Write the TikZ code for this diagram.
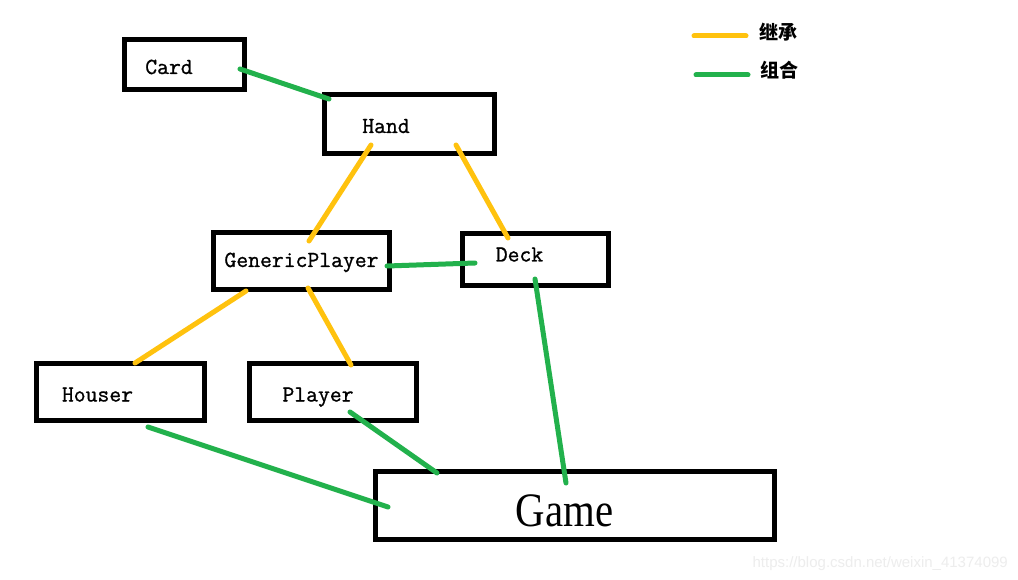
\documentclass[tikz,border=0pt]{standalone}
\usepackage{fontspec}
\setmainfont{Liberation Serif}
\newfontfamily\cjkfont{Noto Sans CJK SC}
\newfontfamily\wmfont{Liberation Sans}
\newfontfamily\boxfont[FakeBold=1]{Latin Modern Mono}
\definecolor{inhy}{HTML}{FFC20E}
\definecolor{compg}{HTML}{22B14C}
\definecolor{wmgray}{HTML}{EDEDED}
\tikzset{
  boxst/.style={draw=black, line width=5pt, inner sep=0pt, outer sep=0pt, rectangle},
  txt/.style={inner sep=0pt, anchor=base, font=\boxfont\fontsize{23}{23}\selectfont},
  inh/.style={draw=inhy, line width=5pt, line cap=round},
  comp/.style={draw=compg, line width=5pt, line cap=round},
  legtxt/.style={inner sep=0pt, font=\cjkfont\bfseries\fontsize{19}{19}\selectfont}
}
\begin{document}
\begin{tikzpicture}[x=1pt,y=-1pt]
\useasboundingbox[fill=white] (0,0) rectangle (1018,580);
% boxes
\node[boxst, minimum width=120pt, minimum height=50pt] (card) at (184,65) {};
\node[boxst, minimum width=170pt, minimum height=59pt] (hand) at (409.5,124) {};
\node[boxst, minimum width=176pt, minimum height=57pt] (gp) at (301.5,261) {};
\node[boxst, minimum width=146pt, minimum height=52pt] (deck) at (535.5,259.5) {};
\node[boxst, minimum width=168pt, minimum height=57pt] (houser) at (120.5,392) {};
\node[boxst, minimum width=167pt, minimum height=57pt] (player) at (333,392) {};
\node[boxst, minimum width=399pt, minimum height=68pt] (game) at (575,505.5) {};
% labels
\node[txt] (cardt) at (169,74) {Card};
\node[txt] (handt) at (386,133) {Hand};
\node[txt] (gpt) at (301.5,267) {GenericPlayer};
\node[txt] (deckt) at (519.5,261.5) {Deck};
\node[txt] (houst) at (97.5,401.5) {Houser};
\node[txt] (playt) at (318,401.5) {Player};
\node[inner sep=0pt, anchor=base, font=\fontsize{48}{48}\selectfont, xscale=0.85] (gamet) at (564.5,526) {Game};
% connectors
\draw[comp] ([shift={(56,4)}]card.center) -- ([shift={(-80.5,-25)}]hand.center);
\draw[inh] ([shift={(-38.5,21)}]hand.center) -- ([shift={(7.5,-20)}]gp.center);
\draw[inh] ([shift={(46.5,21)}]hand.center) -- ([shift={(-27.5,-21.5)}]deck.center);
\draw[comp] ([shift={(85.5,5)}]gp.center) -- ([shift={(-60.5,3.5)}]deck.center);
\draw[comp] ([shift={(-0.5,19.5)}]deck.center) -- ([shift={(-9,-22.5)}]game.center);
\draw[inh] ([shift={(-55.5,30)}]gp.center) -- ([shift={(14.5,-29)}]houser.center);
\draw[inh] ([shift={(6.5,27)}]gp.center) -- ([shift={(18,-27)}]player.center);
\draw[comp] ([shift={(17,20)}]player.center) -- ([shift={(-138,-32.5)}]game.center);
\draw[comp] ([shift={(27.5,35)}]houser.center) -- ([shift={(-187,1.5)}]game.center);
% legend
\node[legtxt] (leg1) at (778,32) {继承};
\node[legtxt] (leg2) at (779,70) {组合};
\coordinate (l1a) at (694,36);
\coordinate (l1b) at (746,36);
\coordinate (l2a) at (696,75);
\coordinate (l2b) at (748,75);
\draw[inh] (l1a) -- (l1b);
\draw[comp] (l2a) -- (l2b);
% watermark
\node[inner sep=0pt, anchor=base east, text=wmgray, font=\wmfont\fontsize{15}{15}\selectfont] (wm) at (1008,567) {https://blog.csdn.net/weixin\_41374099};
\end{tikzpicture}
\end{document}
